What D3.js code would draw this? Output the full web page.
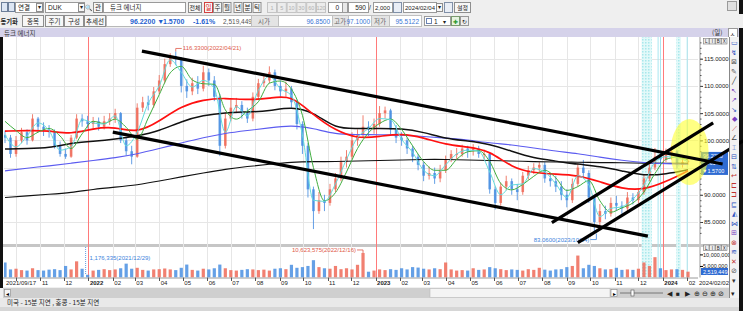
<!DOCTYPE html>
<html><head><meta charset="utf-8">
<script src="https://cdn.jsdelivr.net/npm/d3@7"></script>
<style>
html,body{margin:0;padding:0;background:#f0f0f0;overflow:hidden;}
svg{display:block;}
text{font-family:"Liberation Sans",Arial,sans-serif;}
.kr{font-family:"Noto Sans CJK KR","Noto Sans",sans-serif;}
</style></head><body>
<svg id="c" width="743" height="311"></svg>
<script>
// ---------------- DATA (weekly) ----------------
const startDate = "2021-09-17", endDate = "2024-02-02";
const firstOpen = 101;
const closes = [100.5,97.5,100,101.5,100,104,102.5,102,101.5,99,97.5,97,100.5,104,103.5,103,103.5,102.5,103.5,104,
105,100,98,97,106,107,106.5,109,111,114,115.5,115,110,109,110.5,109.5,112.5,111,108,99,
104,106,106.5,105,104,108,110.5,111,112.5,110,109,109.5,107,103,99,91,87,89,88.5,91,
93,96,97,100,101,102.5,102,103,105,105.5,102,100.5,100,98.5,97,95.5,93.5,94,93,94.5,
96.5,97.5,97.5,98.5,98,98.5,97.5,97.5,91,88.5,91.5,92.5,91,90.5,93.5,94.5,95,95.5,93,92.5,
91.5,90,89,92,95,94,89.5,85,87,86.5,88.5,88,87.5,89.5,89,90.5,93,95,97,96.5,
97.5,98,95.5,96,96.22];
const highs = [101.8,101,100.8,102.3,102,104.8,104.3,103.3,102.8,102,99.8,98.5,101,104.8,104.8,104.5,104.3,104.2,104.5,105,
105.8,105.2,100.5,99,106.8,108,108.2,109.8,112,115,116,116.33,115.3,111.2,111.5,111.8,113.7,113.2,111.8,108.5,
105,107.5,107.8,107.2,106,108.8,111.3,112.3,113.6,113,111,110.8,110,107.5,103.5,99.5,91.5,90.5,90,92,
94,97,98.2,101.5,102,104.6,103.5,104,106.3,106.2,105.8,102.8,101.5,100.5,99,97.5,96,95.2,95,95.5,
97.2,98.2,98.6,99.2,99,99.3,99,98.3,97.8,91.5,92.2,93.5,93,92,94.2,95.3,95.8,96,96,94,
93.5,92.5,91,93,95.8,96.4,94.5,90,88.3,88,89.5,89.8,88.8,90.5,90.3,91.2,93.8,96,98.6,97.8,
98.5,99,98.3,97.1,97.1];
const lows = [99.5,96.8,97,99.5,99.2,99.8,101.5,100.8,100.5,98.5,97,96.6,96.8,100.2,102.5,102.2,102,101.8,102,102.8,
103.2,99.5,97.2,95.6,96.8,105.2,105.5,106,108.5,110.5,113.5,113.8,108.8,107.8,108.3,108.5,109,110,107.2,97.1,
98.5,103.5,105,104,103.2,103.5,107.5,109.8,110.5,109.2,108,108,106,102,97.5,89.5,83.7,86.5,87,88,
90.5,92.5,95,96.5,99,100.5,100.8,101.2,102.5,104,101,99.5,99,97.5,96,94.5,92.5,92.8,92,92.3,
94,96,96.5,97,96.8,97.2,96.8,96.5,90.2,87.3,88,90.8,90,89,90,92.8,93.8,94,92.2,91.5,
90.5,89,87.7,88.5,91.5,93,88.5,83.06,84.3,85.5,86,87,86.5,87,88.2,88.5,90,92.5,94.5,95.2,
96,96.5,94.8,95,95.51];
// weekly volume, millions of shares
const volumes = [6.5,3.5,3.8,3.2,3.0,4.0,3.2,3.0,3.4,3.6,3.2,5.0,3.5,7.0,3.8,1.18,3.0,3.3,3.6,3.2,
3.5,4.0,6.0,3.8,4.2,3.3,3.0,3.5,3.6,3.9,3.5,3.2,4.2,5.6,3.3,3.0,3.8,3.5,4.0,5.6,
4.0,3.2,3.0,3.3,3.6,3.5,3.2,3.4,3.0,3.8,4.0,3.6,5.5,4.2,4.5,5.0,7.5,4.5,4.0,3.8,
5.0,3.6,4.0,3.5,5.5,10.62,2.5,3.0,3.5,3.2,3.6,3.3,4.0,3.5,4.5,4.3,3.8,3.5,4.0,3.6,
6.5,3.5,3.0,3.2,3.0,4.0,3.3,3.5,4.5,4.0,3.6,3.2,3.5,3.3,3.0,3.6,3.3,4.2,3.4,3.0,
3.5,3.6,4.5,5.0,9.5,4.0,5.5,5.0,4.0,3.5,3.6,4.2,3.3,3.5,3.3,3.8,6.5,5.0,8.8,4.0,
3.2,3.5,3.6,3.3,2.52];
// moving averages sampled every 2 weeks (short) / every 4 weeks (long)
const maCyan = [101.0,98.8,100.8,103.2,101.8,98.2,98.8,103.8,103.2,103.0,104.5,99.0,101.5,106.8,110.0,114.8,112.5,109.8,111.0,109.5,
101.5,106.2,104.5,109.2,111.8,109.5,108.2,101.0,89.0,88.8,92.0,96.5,100.5,102.2,104.0,103.8,100.2,97.8,94.5,93.5,
95.5,97.5,98.2,98.0,94.2,90.0,91.8,92.0,94.8,94.2,92.0,89.5,93.5,91.8,86.0,87.5,87.8,89.2,91.8,96.0,97.0,96.8,96.1];
const maGreen = [103.5,101.8,100.5,101.5,102.2,100.8,98.5,101.2,103.5,103.1,103.9,102.4,100.2,104.1,108.4,112.4,113.6,111.1,110.4,110.3,
105.6,103.9,105.4,107.1,110.5,110.9,109.4,104.6,95.0,88.9,90.4,94.2,98.5,101.4,103.1,103.9,102.0,99.0,96.1,94.5,
94.5,96.5,97.9,98.1,96.1,92.1,90.9,91.9,93.4,94.5,93.1,90.8,91.5,92.6,88.9,86.8,87.6,88.5,90.5,93.9,96.5,96.9,96.4];
const maRed = [101.7,101.8,101.8,101.1,102.2,102.5,101.3,103.5,106.3,107.5,107.8,107.4,107.7,108.4,104.6,101.8,
100.3,100.7,101.3,100.5,99.2,98.8,98.1,95.0,94.0,93.8,93.6,92.4,91.1,90.9,92.4,94.4];
const maBlack = [98.4,98.5,98.6,99.5,99.8,100.2,100.8,101.7,103.5,104.6,105.1,105.2,105.4,106.2,105.2,102.1,
102.2,102.2,102.2,101.5,100.3,99.9,99.3,98.0,96.7,96.2,95.6,95.2,94.4,93.5,93.8,94.6];
const maBlue = [94.4,94.9,95.3,95.8,96.3,96.8,97.5,98.5,99.5,100.5,101.3,101.8,102.3,102.8,102.2,101.1,
101.1,101.0,101.0,100.7,100.4,100.1,99.5,99.2,98.6,98.0,97.6,96.9,96.3,95.9,95.7,95.6];
const maLong = [89.5,89.8,90.1,90.4,91.0,91.4,91.8,92.5,93.3,94.0,94.7,95.2,95.6,96.0,96.1,96.1,
96.2,96.3,96.4,96.5,96.5,96.4,96.3,96.2,96.1,96.0,96.0,95.9,95.9,95.8,95.8,95.8];
const priceTicks = [85,90,95,100,105,110,115];
const volTicks = [5,10];
const monthLabels = ["","11","12","2022","02","03","04","05","06","07","08","09","10","11","12",
"2023","02","03","04","05","06","07","08","09","10","11","12","2024","02"];
const trendLines = [
  [["2022-03-10",116.4],["2024-03-17",95.65]],
  [["2022-02-01",101.5],["2023-12-13",82.4]],
  [["2023-08-13",84.9],["2024-03-05",103.2]],
  [["2023-09-15",81.2],["2024-04-12",99.9]]
];
const highlightRanges = [["2023-12-05","2023-12-18"],["2024-01-18","2024-01-24"]];
const highlightLines = ["2023-12-26","2023-12-29","2024-02-01"];
const circleMark = {date:"2024-02-04", price:97.86};
const lastInfo = {price:"96.2200", chg:"1.5700", pct:"-1.61%", vol:"2,519,449", open:"96.8500", high:"97.1000", low:"95.5122"};

// ---------------- SCALES ----------------
const parse = d3.timeParse("%Y-%m-%d");
const t0 = parse(startDate), t1 = parse(endDate);
const x = d3.scaleTime().domain([t0,t1]).range([5,688]);
const y = d3.scaleLinear().domain([85,115]).range([222,58.7]);
const yv = d3.scaleLinear().domain([0,10]).range([277.5,254.4]);
const weekDates = closes.map((_,i)=>d3.timeDay.offset(t0,7*i));
const opens = closes.map((c,i)=> i? closes[i-1] : firstOpen);
const UP="#ee6a58", DOWN="#4a8fe2";

const svg = d3.select("#c");
const W=743,H=311;
svg.append("rect").attr("width",W).attr("height",H).attr("fill","#f0f0f0");

// ---------------- TOOLBARS ----------------
const tb = svg.append("g");
function box(x0,y0,w,h,fill,stroke){ tb.append("rect").attr("x",x0+.5).attr("y",y0+.5).attr("width",w).attr("height",h).attr("fill",fill).attr("stroke",stroke||"#9a9a9a").attr("stroke-width",1); }
function txt(x0,y0,s,o={}){ return tb.append("text").attr("x",x0).attr("y",y0).attr("class",o.kr?"kr":null).attr("font-size",o.fs||7)
  .attr("fill",o.fill||"#222").attr("text-anchor",o.anchor||"start").attr("font-weight",o.bold?"bold":null).text(s); }
function button(x0,y0,w,h,s,o={}){ box(x0,y0,w,h,o.bg||"#f7f7f7",o.stroke||"#8e8e8e"); txt(x0+w/2+.5,y0+h-2.5,s,Object.assign({anchor:"middle",kr:true},o)); }
// row 1
tb.append("rect").attr("x",0).attr("y",0).attr("width",W).attr("height",14).attr("fill","#efefef");
box(1,2,6,9,"#dde6f3","#6d7f99"); box(8,2,6,9,"#dde6f3","#6d7f99");
box(15,2,28,10,"#fff"); txt(18,10,"연결",{kr:true,fs:6.5}); button(36,3,6,8,"▾",{fs:6,kr:false});
box(45,2,39,10,"#fff"); txt(48,10,"DUK",{fs:6.5}); button(78,3,6,8,"▾",{fs:6,kr:false});
txt(85,10,"🔍",{fs:6}); button(93,2,9,10,"관",{fs:6.5});
box(103,2,82,10,"#fff"); txt(110,10,"듀크 에너지",{kr:true,fs:6.5});
button(188,2,13,10,"전체",{fs:6});
button(204,2,8,10,"일",{fs:6.5,fill:"#e02020",stroke:"#d04040"});
["주","월","년","분","틱"].forEach((s,i)=>button(213+i*9.5+(i>1?1.5:0),2,8,10,s,{fs:6.5}));
["1","5","10","30","60","120"].forEach((s,i)=>button(267+i*9.8,2,9,10,s,{fs:5.5,fill:"#b0b0b0",bg:"#ececec",stroke:"#c4c4c4",kr:false}));
box(328,2,14,10,"#fff"); txt(339,10,"0",{fs:6.5,anchor:"end"}); box(342,2,5,10,"#e8e8e8");
box(348,2,20,10,"#fff"); txt(366,10,"590",{fs:6.5,anchor:"end"});
txt(369,10,"/",{fs:6.5}); box(373,2,19,10,"#fff"); txt(390,10,"2,000",{fs:6,anchor:"end"});
box(393,2,8,10,"#e9eef6","#8090a8");
box(403,2,33,10,"#fff"); txt(405,10,"2024/02/04",{fs:6}); button(436,3,6,8,"▾",{fs:6,kr:false});
box(444,2,8,10,"#e9eef6","#8090a8"); button(454,2,16,10,"설정",{fs:6});
box(727,1,9,9,"#e0e0e0"); tb.append("rect").attr("x",739).attr("y",0).attr("width",4).attr("height",H).attr("fill","#111");
// row 2
tb.append("rect").attr("x",0).attr("y",14).attr("width",W).attr("height",14).attr("fill","#efefef");
txt(0.5,24,"동기화",{kr:true,fs:6.3,bold:true});
button(22,15,21,11,"종목",{fs:6.5}); button(45,15,18,11,"주기",{fs:6.5}); button(64,15,19,11,"구성",{fs:6.5}); button(84,15,21,11,"추세선",{fs:6.5});
box(106,15,145,11,"#fff","#b8b8b8");
txt(130,24,lastInfo.price+" ▼",{fs:7,fill:"#1f5fcf",bold:true});
txt(163,24,lastInfo.chg,{fs:7,fill:"#1f5fcf",bold:true});
txt(193,24,lastInfo.pct,{fs:7,fill:"#1f5fcf",bold:true});
txt(223,24,lastInfo.vol,{fs:6.5,fill:"#555"});
box(251,15,27,11,"#e4e4e4","#c0c0c0"); txt(258,24,"시가",{kr:true,fs:6.5,fill:"#666"});
box(278,15,54,11,"#fff","#c0c0c0"); txt(330,24,lastInfo.open,{fs:6.5,fill:"#3a76d6",anchor:"end"});
box(332,15,16,11,"#e4e4e4","#c0c0c0"); txt(334,24,"고가",{kr:true,fs:6.5,fill:"#666"});
box(348,15,23,11,"#fff","#c0c0c0"); txt(370,24,lastInfo.high,{fs:6.5,fill:"#3a76d6",anchor:"end"});
box(371,15,18,11,"#e4e4e4","#c0c0c0"); txt(374,24,"저가",{kr:true,fs:6.5,fill:"#666"});
box(389,15,32,11,"#fff","#c0c0c0"); txt(419,24,lastInfo.low,{fs:6.5,fill:"#3a76d6",anchor:"end"});
box(424,16,26,9,"#fff","#9a9a9a"); box(426,18,5,5,"#fff","#6b83b3"); txt(434,24,"1",{fs:6.5}); txt(443,24,"▾",{fs:6});
box(451,16,8,9,"#e6f3e0","#7a9a70"); txt(455,24,"✚",{fs:6,fill:"#2e9a2e",anchor:"middle"});
box(460,16,8,9,"#eee","#999"); txt(464,24,"↻",{fs:6,anchor:"middle"});
// title bar
tb.append("rect").attr("x",0).attr("y",28).attr("width",739).attr("height",9).attr("fill","#d5d2ea");
txt(4,35.5,"듀크 에너지",{kr:true,fs:6.5,fill:"#333"});
txt(712,35,"(일)",{kr:true,fs:6.5,fill:"#333"});
box(728,28,9,9,"#fff","#999"); txt(732.5,35.5,"ㅅ",{kr:true,fs:6,anchor:"middle"});

// ---------------- CHART AREAS ----------------
const L=4, R=698, PT=37, PB=244, VT=247, VB=277.5;
svg.append("rect").attr("x",0).attr("y",37).attr("width",729).attr("height",250).attr("fill","#fff");
svg.append("rect").attr("x",0).attr("y",37).attr("width",3).attr("height",251).attr("fill","#111");
svg.append("rect").attr("x",3).attr("y",PB).attr("width",726).attr("height",3).attr("fill","#c6c6c6");
svg.append("line").attr("x1",3).attr("x2",698).attr("y1",VB+.5).attr("y2",VB+.5).attr("stroke","#9a9a9a");

const defs = svg.append("defs");
defs.append("clipPath").attr("id","cp").append("rect").attr("x",L).attr("y",PT).attr("width",R-L).attr("height",PB-PT);
defs.append("clipPath").attr("id","cv").append("rect").attr("x",L).attr("y",VT).attr("width",R-L).attr("height",VB-VT);
const pat = defs.append("pattern").attr("id","hatch").attr("width",3).attr("height",3).attr("patternUnits","userSpaceOnUse");
pat.append("rect").attr("width",3).attr("height",3).attr("fill","#e2f9f9");
pat.append("rect").attr("width",1.5).attr("height",1.5).attr("fill","#a8e8ec");

// grid
const months = d3.timeMonth.range(d3.timeMonth.ceil(t0), d3.timeDay.offset(t1,1));
const grid = svg.append("g");
grid.selectAll("line.h").data(priceTicks).join("line").attr("x1",L).attr("x2",R)
  .attr("y1",d=>Math.round(y(d))+.5).attr("y2",d=>Math.round(y(d))+.5).attr("stroke","#e6e6e6");
grid.selectAll("line.v").data(months).join("line")
  .attr("x1",d=>Math.round(x(d))+.5).attr("x2",d=>Math.round(x(d))+.5).attr("y1",PT).attr("y2",VB)
  .attr("stroke","#e6e6e6");

// highlight bands
const hl = svg.append("g");
hl.selectAll("rect").data(highlightRanges).join("rect")
  .attr("x",d=>x(parse(d[0]))).attr("width",d=>x(parse(d[1]))-x(parse(d[0])))
  .attr("y",PT).attr("height",VB-PT).attr("fill","url(#hatch)");
hl.selectAll("line").data(highlightLines).join("line")
  .attr("x1",d=>x(parse(d))).attr("x2",d=>x(parse(d))).attr("y1",PT).attr("y2",VB).attr("stroke","#a8e6f0").attr("stroke-width",1);
grid.selectAll("line.v2").data(months.filter(d=>d.getMonth()===0)).join("line")
  .attr("x1",d=>Math.round(x(d))+.5).attr("x2",d=>Math.round(x(d))+.5).attr("y1",PT).attr("y2",VB).attr("stroke","#ff7a7a");

// ---------------- PRICE PANE ----------------
const pg = svg.append("g").attr("clip-path","url(#cp)");
const cw = 2.6;
const cg = pg.append("g");
cg.selectAll("line").data(closes).join("line")
  .attr("x1",(d,i)=>x(weekDates[i])).attr("x2",(d,i)=>x(weekDates[i]))
  .attr("y1",(d,i)=>y(highs[i])).attr("y2",(d,i)=>y(lows[i]))
  .attr("stroke",(d,i)=>d>=opens[i]?UP:DOWN).attr("stroke-width",1).attr("opacity",0.85);
cg.selectAll("rect").data(closes).join("rect")
  .attr("x",(d,i)=>x(weekDates[i])-cw/2).attr("width",cw)
  .attr("y",(d,i)=>y(Math.max(d,opens[i])))
  .attr("height",(d,i)=>Math.max(1,Math.abs(y(d)-y(opens[i]))))
  .attr("fill",(d,i)=>d>=opens[i]?UP:DOWN).attr("opacity",0.85);

function maLine(vals, step, color, width, curve){
  const ln = d3.line().x((d,k)=>x(weekDates[Math.min(k*step,closes.length-1)])).y(d=>y(d)).curve(curve);
  pg.append("path").datum(vals).attr("d",ln).attr("fill","none").attr("stroke",color).attr("stroke-width",width);
}
maLine(maLong,4,"#111",1.1,d3.curveBasis);
maLine(maBlue,4,"#5b5bf0",1.1,d3.curveBasis);
maLine(maBlack,4,"#111",1.5,d3.curveBasis);
maLine(maRed,4,"#ff1010",1.7,d3.curveBasis);
maLine(maGreen,2,"#3fae3f",1,d3.curveMonotoneX);
maLine(maCyan,2,"#62dcdc",1,d3.curveMonotoneX);

// ---------------- VOLUME PANE ----------------
const vg = svg.append("g").attr("clip-path","url(#cv)");
vg.selectAll("rect").data(volumes).join("rect")
  .attr("x",(d,i)=>x(weekDates[i])-1.6).attr("width",3.2)
  .attr("y",d=>yv(d)).attr("height",d=>VB-yv(d))
  .attr("fill",(d,i)=>closes[i]>=opens[i]?UP:DOWN).attr("opacity",0.85);

// ---------------- AXES ----------------
const lastClose = closes[closes.length-1];
const ax = svg.append("g").attr("transform","translate(700,0)");
// the tick label hidden behind the current-price box is left blank
ax.call(d3.axisRight(y).tickValues(priceTicks).tickSize(3)
  .tickFormat(d=>Math.abs(d-lastClose)<2.5?"":d3.format(".4f")(d)));
ax.select(".domain").remove();
ax.selectAll("text").attr("font-size",6).attr("fill","#222").attr("x",4).attr("font-family","Liberation Sans, Arial");
ax.selectAll("line").attr("stroke","#333");
const axm = svg.append("g").attr("transform","translate(700,0)");
axm.call(d3.axisRight(y).tickValues(d3.range(83,119,1)).tickSize(1.5).tickFormat(""));
axm.select(".domain").attr("stroke","#999").attr("d","M0,"+PT+"V"+PB);
axm.selectAll("line").attr("stroke","#555");

const avx = svg.append("g").attr("transform","translate(700,0)");
avx.call(d3.axisRight(yv).tickValues(volTicks).tickSize(3).tickFormat(d=>d3.format(",")(d*1e6)));
avx.select(".domain").attr("d","M0,"+VT+"V"+VB).attr("stroke","#999");
avx.selectAll("text").attr("font-size",5.5).attr("fill","#222").attr("x",3).attr("font-family","Liberation Sans, Arial");

function paneBtns(yy){
  ["L","I","B","X"].forEach((s,i)=>{ const xx=703+i*6;
    svg.append("rect").attr("x",xx+.5).attr("y",yy+.5).attr("width",5.5).attr("height",5.5).attr("fill","#eee").attr("stroke","#777").attr("stroke-width",.6);
    svg.append("text").attr("x",xx+3.3).attr("y",yy+5).attr("font-size",4.5).attr("text-anchor","middle").attr("fill","#222").text(s); });
}
paneBtns(38); paneBtns(244.5);

// current price boxes
const cp = svg.append("g");
const cpTop = y(lastClose)-9;
cp.append("rect").attr("x",701).attr("y",cpTop).attr("width",27).attr("height",23).attr("fill","#2f6bd2");
cp.append("text").attr("x",703).attr("y",cpTop+6.2).attr("font-size",5.5).attr("fill","#fff").text(lastInfo.price);
cp.append("text").attr("x",703).attr("y",cpTop+13.5).attr("font-size",5.5).attr("fill","#fff").text(lastInfo.pct);
cp.append("text").attr("x",702).attr("y",cpTop+20.8).attr("font-size",5.5).attr("fill","#fff").text("▼"+lastInfo.chg);
cp.append("rect").attr("x",701).attr("y",268).attr("width",27).attr("height",7).attr("fill","#2f6bd2");
cp.append("text").attr("x",703).attr("y",273.8).attr("font-size",5.5).attr("fill","#fff").text(lastInfo.vol);

// time axis
const ta = svg.append("g");
ta.selectAll("line").data(months).join("line").attr("x1",d=>Math.round(x(d))+.5).attr("x2",d=>Math.round(x(d))+.5)
  .attr("y1",VB).attr("y2",VB+3.5).attr("stroke","#555");
ta.selectAll("text").data(months).join("text").attr("x",d=>x(d)+1.5).attr("y",285)
  .attr("font-size",6).attr("fill","#222").attr("font-weight",(d,i)=>monthLabels[i].length===4?"bold":null)
  .text((d,i)=>monthLabels[i]);
ta.append("text").attr("x",x(t0)+1).attr("y",285).attr("font-size",6).attr("fill","#222").text("2021/09/17");
ta.append("text").attr("x",699).attr("y",285).attr("font-size",6).attr("fill","#222").text("2024/02/02");

// ---------------- ANNOTATIONS ----------------
const an = svg.append("g");
const iMax = d3.maxIndex(highs);
const mx = x(weekDates[iMax]), my = y(highs[iMax]);
an.append("path").attr("d",`M${mx},${my}V${my-3}H${mx+6}`).attr("fill","none").attr("stroke","#e05a4a").attr("stroke-width",.8);
an.append("text").attr("x",mx+7).attr("y",my-1).attr("font-size",6).attr("fill","#e05a4a").text("116.3300(2022/04/21)");
const iMin = d3.minIndex(lows);
const nx = x(weekDates[iMin]), ny = y(lows[iMin]);
an.append("path").attr("d",`M${nx+2},${ny+1}V${ny+7}H${nx-4}`).attr("fill","none").attr("stroke","#3b82dc").attr("stroke-width",.8);
an.append("text").attr("x",nx-5).attr("y",ny+9).attr("font-size",6).attr("fill","#3b82dc").attr("text-anchor","end").text("83.0600(2023/10/04)");
const iVmax = d3.maxIndex(volumes);
const vx = x(weekDates[iVmax]), vy = yv(volumes[iVmax]);
an.append("path").attr("d",`M${vx},${vy}V${vy-3}H${vx-6}`).attr("fill","none").attr("stroke","#e05a4a").attr("stroke-width",.8);
an.append("text").attr("x",vx-7).attr("y",vy-1).attr("font-size",6).attr("fill","#e05a4a").attr("text-anchor","end").text("10,623,575(2022/12/16)");
const iVmin = d3.minIndex(volumes);
const ux = x(weekDates[iVmin])-2;
an.append("line").attr("x1",ux).attr("x2",ux).attr("y1",VT).attr("y2",yv(volumes[iVmin])).attr("stroke","#3b82dc").attr("stroke-dasharray","1,1").attr("stroke-width",.8);
an.append("text").attr("x",ux+4).attr("y",260).attr("font-size",6).attr("fill","#3b82dc").text("1,176,335(2021/12/29)");

// yellow ellipse
svg.append("ellipse").attr("cx",x(parse(circleMark.date))).attr("cy",y(circleMark.price)).attr("rx",19).attr("ry",33)
  .attr("fill","#ffff30").attr("opacity",0.6);

// trend lines
svg.append("g").selectAll("line").data(trendLines).join("line")
  .attr("x1",d=>x(parse(d[0][0]))).attr("y1",d=>y(d[0][1]))
  .attr("x2",d=>x(parse(d[1][0]))).attr("y2",d=>y(d[1][1]))
  .attr("stroke","#000").attr("stroke-width",3.2);

// ---------------- RIGHT TOOLBAR ----------------
svg.append("rect").attr("x",729).attr("y",37).attr("width",10).attr("height",261).attr("fill","#f2f2f2");
svg.append("line").attr("x1",729.5).attr("x2",729.5).attr("y1",37).attr("y2",298).attr("stroke","#888");
const icons = ["▭","↯","⊠","✎","╱","↖","↗","↘","◆","⟋","∠","⌶","⊟","⇅","↩","⊏","⊐","⊑","◭","⋈","⊞","⊗","≋","✕","⊘","▾"];
const icol = ["#2a4fbf","#2a4fbf","#555","#555","#333","#7a3fbf","#7a3fbf","#2a4fbf","#7a3fbf","#c03030","#444","#2a4fbf","#2a4fbf","#2a4fbf","#c03030","#c03030","#c03030","#2a4fbf","#2a4fbf","#2a4fbf","#7a3fbf","#c03030","#2a4fbf","#c03030","#555","#333"];
svg.append("g").selectAll("text").data(icons).join("text").attr("x",734).attr("y",(d,i)=>45+i*9.5)
  .attr("font-size",7).attr("text-anchor","middle").attr("fill",(d,i)=>icol[i]).attr("font-family","DejaVu Sans").text(d=>d);

// ---------------- SCROLL + STATUS ----------------
const sb = svg.append("g");
sb.append("rect").attr("x",3).attr("y",288).attr("width",726).attr("height",10).attr("fill","#cfcfcf");
sb.append("rect").attr("x",4.5).attr("y",289.5).attr("width",6).attr("height",7).attr("fill","#f4f4f4").attr("stroke","#888").attr("stroke-width",.6);
sb.append("text").attr("x",7.5).attr("y",295.5).attr("font-size",5.5).attr("text-anchor","middle").text("◂");
sb.append("rect").attr("x",430).attr("y",288.5).attr("width",180).attr("height",9).attr("fill","#f4f4f4").attr("stroke","#bbb").attr("stroke-width",.6);
sb.append("rect").attr("x",611).attr("y",289.5).attr("width",6).attr("height",7).attr("fill","#fff").attr("stroke","#888").attr("stroke-width",.6);
sb.append("text").attr("x",614).attr("y",295.5).attr("font-size",5.5).attr("text-anchor","middle").text("▸");
sb.append("line").attr("x1",620).attr("x2",663).attr("y1",293).attr("y2",293).attr("stroke","#777");
sb.append("rect").attr("x",631).attr("y",290).attr("width",3).attr("height",6).attr("fill","#fff").attr("stroke","#555").attr("stroke-width",.6);
["◀","■","▶","⊕","⊖","⊕","⊘","▾"].forEach((s,i)=>sb.append("text").attr("x",[669,678,687,697,705,713,721,733][i]).attr("y",296)
  .attr("font-size",6.5).attr("text-anchor","middle").attr("fill","#222").attr("font-family","DejaVu Sans").text(s));
sb.append("rect").attr("x",0).attr("y",298).attr("width",739).attr("height",13).attr("fill","#e9e9e9");
sb.append("rect").attr("x",0).attr("y",307).attr("width",739).attr("height",4).attr("fill","#d6d6d6");
sb.append("text").attr("x",7).attr("y",304.5).attr("class","kr").attr("font-size",6.5).attr("fill","#222")
  .text("미국 - 15분 지연        , 홍콩 - 15분 지연");
</script>
</body></html>
